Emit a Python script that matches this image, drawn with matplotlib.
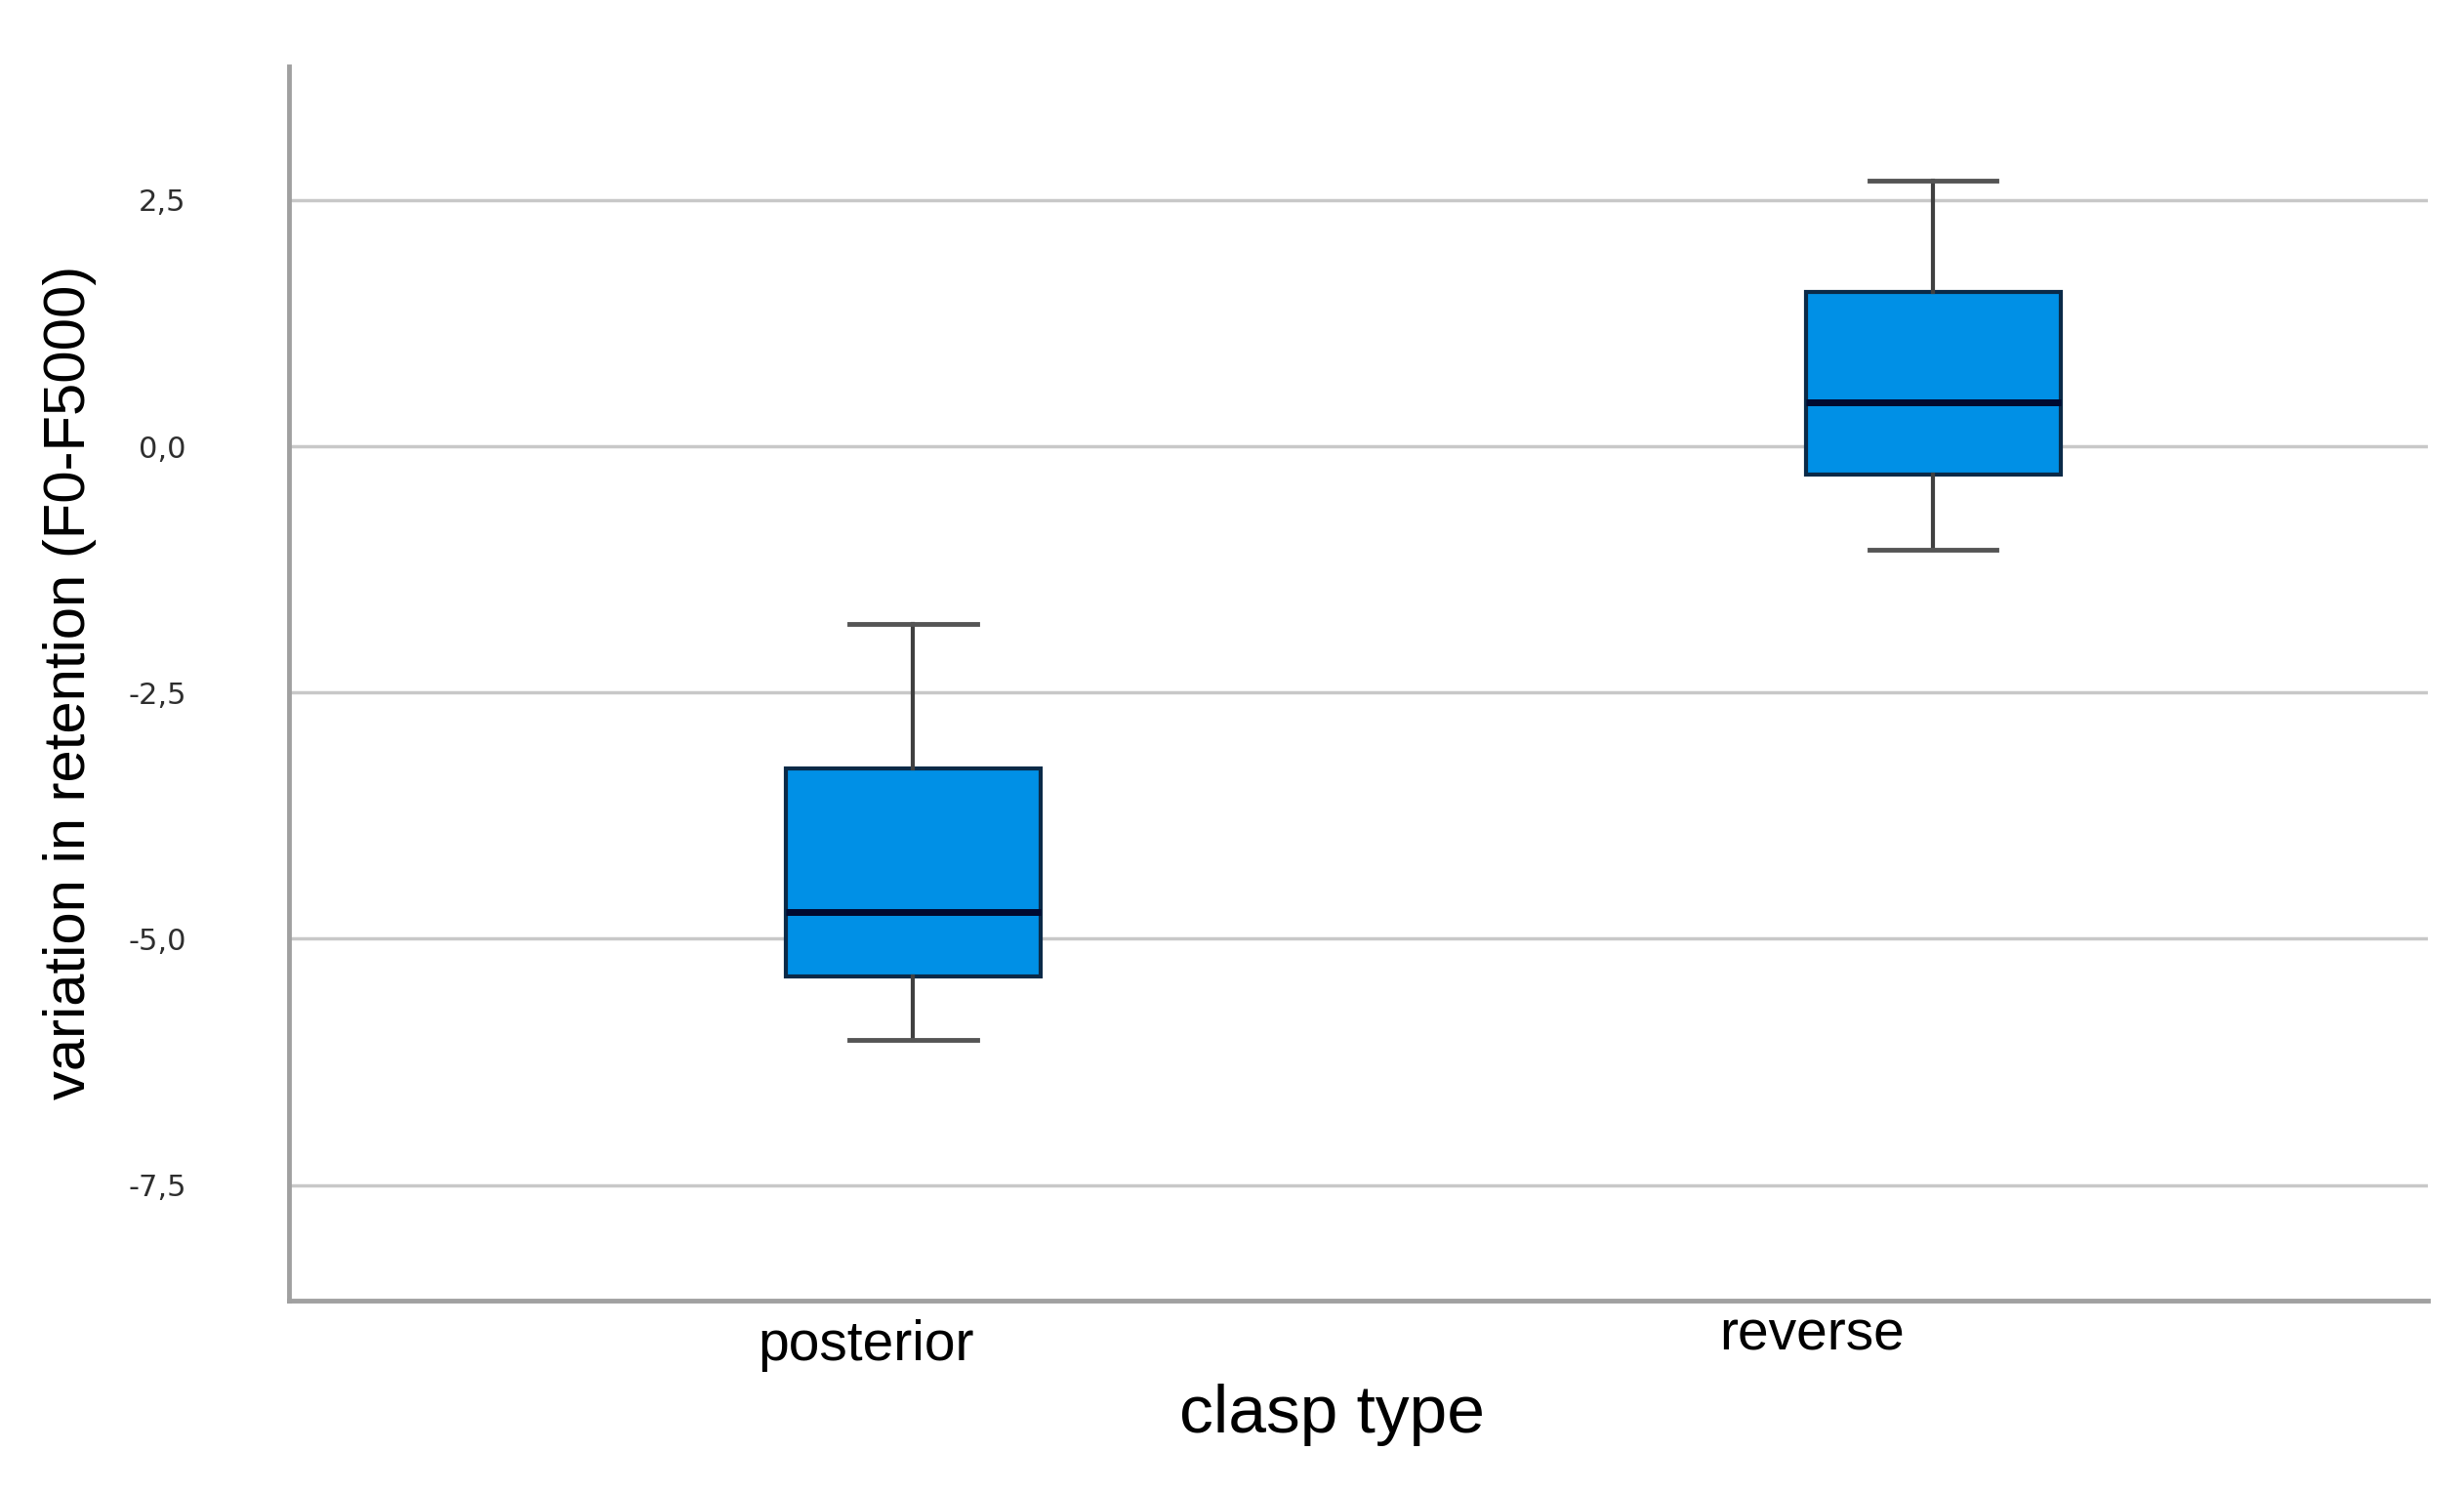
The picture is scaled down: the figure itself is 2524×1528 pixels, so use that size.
import matplotlib.pyplot as plt
import matplotlib.transforms as mtransforms

# clasp type groups and their box statistics
groups = ['posterior', 'reverse']
whisker_low = [-6.03, -1.05]
q1 = [-5.38, -0.29]
median = [-4.73, 0.45]
q3 = [-3.27, 1.57]
whisker_high = [-1.80, 2.70]
yticks = [-7.5, -5.0, -2.5, 0.0, 2.5]
ytick_labels = ['-7,5', '-5,0', '-2,5', '0,0', '2,5']

stats = []
for i in range(len(groups)):
    stats.append({'label': groups[i], 'whislo': whisker_low[i], 'q1': q1[i],
                  'med': median[i], 'q3': q3[i], 'whishi': whisker_high[i],
                  'fliers': []})

fig = plt.figure(figsize=(25.24, 15.28), dpi=100)
ax = fig.add_axes([0.1173, 0.1285, 0.8680, 0.8272])

ax.bxp(stats, positions=[0, 1], widths=0.25, patch_artist=True,
       showfliers=False,
       boxprops=dict(facecolor='#0090e6', edgecolor='#0a2a48', linewidth=3),
       medianprops=dict(color='#000a30', linewidth=5),
       whiskerprops=dict(color='#404040', linewidth=3),
       capprops=dict(color='#555555', linewidth=3.5))

ax.set_xlim(-0.612, 1.485)
ax.set_ylim(-8.67, 3.86)

ax.set_yticks(yticks)
ax.set_yticklabels(ytick_labels, fontsize=22, color='#2e2e2e', family='DejaVu Sans')
ax.yaxis.grid(True, color='#c8c8c8', linewidth=2.5)
ax.set_axisbelow(True)
ax.tick_params(axis='y', length=0, pad=76)

ax.set_xticks([0, 1])
ax.set_xticklabels(groups, fontsize=41, family='Liberation Sans')
ax.tick_params(axis='x', length=0, pad=14)
# category labels sit a bit left of the boxes in the original
shifts = [(-0.48, 0.0), (-1.24, 0.11)]
for lab, (dx, dy) in zip(ax.get_xticklabels(), shifts):
    lab.set_transform(lab.get_transform() + mtransforms.ScaledTranslation(dx, dy, fig.dpi_scale_trans))

for s in ['top', 'right']:
    ax.spines[s].set_visible(False)
for s in ['left', 'bottom']:
    ax.spines[s].set_color('#a0a0a0')
    ax.spines[s].set_linewidth(3.5)

fig.text(0.5408, 0.052, 'clasp type', fontsize=50, family='Liberation Sans',
         ha='center', va='center')
fig.text(0.0285, 0.5425, 'variation in retention (F0-F5000)', fontsize=43,
         family='Liberation Sans', rotation=90, ha='center', va='center')

fig.savefig('out.png', dpi=100, facecolor='white')
